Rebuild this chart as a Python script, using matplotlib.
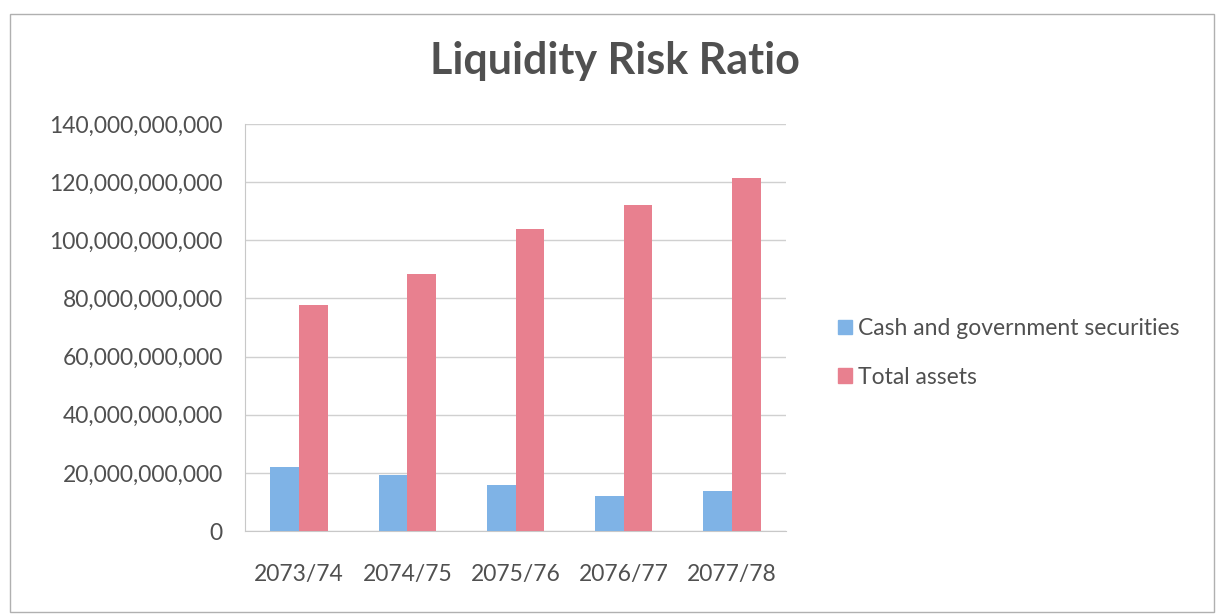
import matplotlib.pyplot as plt
from matplotlib.patches import Rectangle, Patch
import numpy as np

years = ['2073/74', '2074/75', '2075/76', '2076/77', '2077/78']
cash_gov_sec = [22.0e9, 19.2e9, 15.8e9, 12.0e9, 13.7e9]
total_assets = [77.8e9, 88.3e9, 103.8e9, 112.3e9, 121.5e9]

blue = '#7fb3e6'
pink = '#e8808f'
txt = '#505050'

plt.rcParams['font.family'] = ['Lato', 'DejaVu Sans']

fig = plt.figure(figsize=(12.16, 6.14), dpi=100)
ax = fig.add_axes([0.2015, 0.135, 0.445, 0.663])

x = np.arange(len(years))
w = 0.265
ax.bar(x - w / 2, cash_gov_sec, w, color=blue, zorder=3)
ax.bar(x + w / 2, total_assets, w, color=pink, zorder=3)

ax.set_xlim(-0.5, len(years) - 0.5)
ax.set_ylim(0, 140e9)
ax.set_yticks(np.arange(0, 141e9, 20e9))
ax.yaxis.set_major_formatter(lambda v, p: f'{int(round(v)):,}')
ax.set_xticks(x)
ax.set_xticklabels(years)
ax.tick_params(length=0, labelsize=16.5, colors=txt)
ax.tick_params(axis='y', pad=16)
ax.tick_params(axis='x', pad=24)
ax.grid(axis='y', color='#d0d0d0', linewidth=1, zorder=0)
for s in ['top', 'right']:
    ax.spines[s].set_visible(False)
for s in ['left', 'bottom']:
    ax.spines[s].set_color('#c8c8c8')

fig.text(0.506, 0.9, 'Liquidity Risk Ratio', ha='center', va='center',
         fontsize=31, fontweight='bold', color=txt)

handles = [Patch(color=blue, label='Cash and government securities'),
           Patch(color=pink, label='Total assets')]
fig.legend(handles=handles, loc='center left', bbox_to_anchor=(0.672, 0.425),
           frameon=False, fontsize=16.5, labelcolor=txt, handlelength=0.6,
           handleheight=0.6, handletextpad=0.3, labelspacing=1.2)

fig.patches.append(Rectangle((0.008, 0.003), 0.99, 0.975, transform=fig.transFigure,
                             fill=False, edgecolor='#b0b0b0', linewidth=1))

fig.savefig('out.png')
